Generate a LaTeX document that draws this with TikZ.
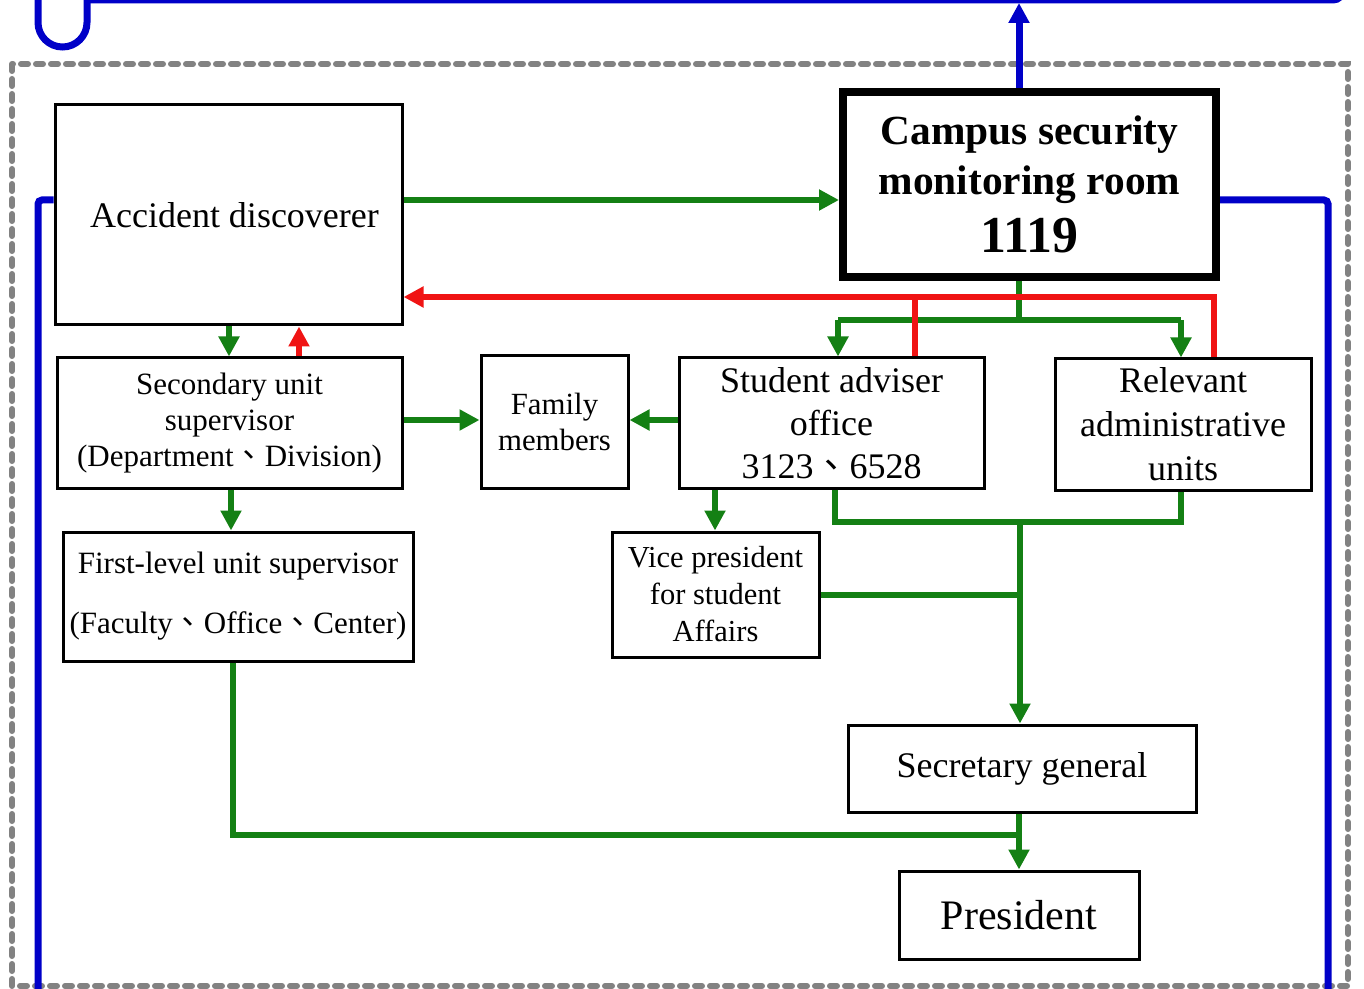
\documentclass[tikz,border=0pt]{standalone}
\usepackage{fontspec}
\setmainfont{Liberation Serif}
\newfontfamily\cjk{Noto Sans CJK TC}
\usetikzlibrary{arrows.meta}
\definecolor{flowgreen}{RGB}{20,128,20}
\definecolor{flowred}{RGB}{240,20,20}
\definecolor{flowblue}{RGB}{0,0,200}
\definecolor{framegray}{RGB}{130,130,130}
\newcommand{\dunhao}{{\cjk 、}}

\begin{document}
\begin{tikzpicture}[x=0.5pt,y=-0.5pt,>={Triangle[length=10pt,width=10pt]}]
\tikzstyle{box}=[draw,line width=1.5pt,align=center,inner sep=0pt]
\tikzstyle{grn}=[color=flowgreen,line width=3pt]
\tikzstyle{rd}=[color=flowred,line width=3pt]
\tikzstyle{blu}=[color=flowblue,line width=3.5pt]

\useasboundingbox (0,0) rectangle (1364,989);
\clip (0,0) rectangle (1364,989);

% outer dashed frame
\draw[framegray,line width=3pt,dash pattern=on 3.5pt off 4pt,line cap=round] (12,64) rectangle (1348,986);

\node[box,minimum width=173.5pt,minimum height=110pt,font=\fontsize{18}{22}\selectfont] (acc) at (228.5,215) {\hspace*{6pt}Accident discoverer};
\node[box,line width=4pt,minimum width=186.5pt,minimum height=92.5pt,font=\fontsize{20.7}{25}\selectfont\bfseries] (cam) at (1029.5,184.5) {Campus security\\monitoring room\\[4pt]{\fontsize{25.9}{29}\selectfont 1119}};
\node[box,minimum width=172.5pt,minimum height=65pt,font=\fontsize{15.5}{18}\selectfont] (sec) at (229.5,423) {Secondary unit\\supervisor\\(Department\dunhao Division)};
\node[box,minimum width=73.5pt,minimum height=66pt,font=\fontsize{15.4}{18}\selectfont] (fam) at (554.5,422) {Family\\members};
\node[box,minimum width=152.5pt,minimum height=65pt,font=\fontsize{18}{21.5}\selectfont] (stu) at (831.5,423) {Student adviser\\office\\3123\dunhao 6528};
\node[box,minimum width=128pt,minimum height=65.5pt,font=\fontsize{18}{22}\selectfont] (rel) at (1183,424.5) {Relevant\\administrative\\units};
\node[box,minimum width=175pt,minimum height=64.5pt,font=\fontsize{15.5}{30}\selectfont] (fst) at (238,596.5) {First-level unit supervisor\\(Faculty\dunhao Office\dunhao Center)};
\node[box,minimum width=103.5pt,minimum height=62.5pt,font=\fontsize{15.25}{18.5}\selectfont] (vic) at (715.5,594.5) {Vice president\\for student\\Affairs};
\node[box,minimum width=174pt,minimum height=43.5pt,font=\fontsize{18}{22}\selectfont] (sgn) at (1022,768.5) {Secretary general};
\node[box,minimum width=120pt,minimum height=44pt,font=\fontsize{21}{25}\selectfont] (pre) at (1019,915) {President};

\coordinate (tsplit) at (1019,320);
\coordinate (tl) at (838,320);
\coordinate (tr) at (1181,320);
\coordinate (mj) at (1020,522);
\coordinate (bj) at (1019,835);
\coordinate (rj) at (915,297);
\coordinate (bt) at (1019,3);
\coordinate (lb) at (38,1000);
\coordinate (rb) at (1328,1000);

% green reports
\path (acc.east |- 0,200) edge[grn,->] (cam.west |- 0,200)
      (acc.south -| 229,0) edge[grn,->] (sec.north -| 229,0)
      (sec.east |- 0,420) edge[grn,->] (fam.west |- 0,420)
      (stu.west |- 0,420) edge[grn,->] (fam.east |- 0,420)
      (sec.south -| 231,0) edge[grn,->] (fst.north -| 231,0)
      (stu.south -| 715,0) edge[grn,->] (vic.north -| 715,0)
      (tl) edge[grn,->] (tl |- stu.north)
      (tr) edge[grn,->] (tr |- rel.north)
      (mj) edge[grn,->] (mj |- sgn.north)
      (sgn.south -| bj) edge[grn,->] (pre.north -| bj);
\draw[grn] (cam.south -| tsplit) -- (tsplit);
\draw[grn] (tl) -- (tr);
\draw[grn] (stu.south -| 835,0) |- (mj) -| (rel.south -| 1181,0);
\draw[grn] (vic.east |- 0,595) -- (mj |- 0,595);
\draw[grn] (fst.south -| 233,0) |- (bj);

% red feedback
\path (sec.north -| 299,0) edge[rd,->] (acc.south -| 299,0);
\draw[rd,->] (rel.north -| 1214,0) |- (acc.east |- rj);
\draw[rd] (stu.north -| rj) -- (rj);

% blue lines
\draw[blu,->] (cam.north -| bt) -- (bt);
\draw[blu,rounded corners=12.25pt] (38,-30) -- (38,47) -- (87,47) -- (87,-2);
\draw[blu,rounded corners=5pt] (85,0) -- (1343,0) -- (1343,-30);
\draw[blu,rounded corners=2pt] (acc.west |- 0,200) -| (lb);
\draw[blu,rounded corners=2pt] (cam.east |- 0,200) -| (rb);
\end{tikzpicture}
\end{document}
